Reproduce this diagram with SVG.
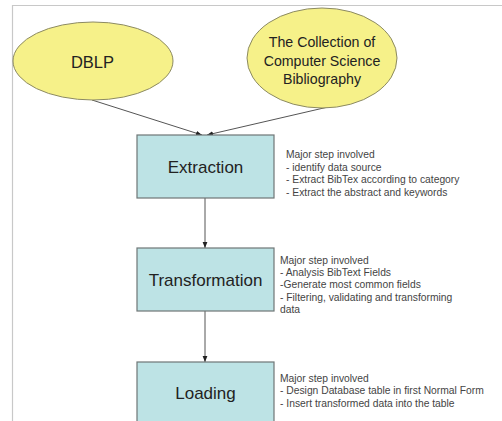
<svg xmlns="http://www.w3.org/2000/svg" width="502" height="421" viewBox="0 0 502 421">
<defs>
<style>
.ell{fill:#f6f189;stroke:#8c8a62;stroke-width:1}
.box{fill:#bde3e5;stroke:#6e7676;stroke-width:1.2}
.lbl{font-family:"Liberation Sans",Arial,sans-serif;fill:#222;text-anchor:middle}
.note{font-family:"Liberation Sans",Arial,sans-serif;font-size:10.3px;fill:#444}
.conn{stroke:#555;stroke-width:1;fill:none}
.frame{stroke:#c8c8c8;stroke-width:1.2;fill:none}
</style>
<marker id="ah" viewBox="0 0 10 10" refX="10" refY="5" markerWidth="6" markerHeight="6" orient="auto" markerUnits="userSpaceOnUse">
<path d="M0,1 L10,5 L0,9 z" fill="#222"/>
</marker>
</defs>
<rect width="502" height="421" fill="#ffffff"/>
<path class="frame" d="M502,5.5 H12.5 V421"/>
<g id="connectors">
<line class="conn" x1="92" y1="100" x2="202" y2="135" marker-end="url(#ah)"/>
<line class="conn" x1="328" y1="107" x2="207" y2="135" marker-end="url(#ah)"/>
<line class="conn" x1="205" y1="198" x2="205" y2="248" marker-end="url(#ah)"/>
<line class="conn" x1="205" y1="311" x2="205" y2="362" marker-end="url(#ah)"/>
</g>
<g id="dblp">
<ellipse class="ell" cx="93" cy="61" rx="80" ry="39"/>
<text class="lbl" x="92.5" y="68" font-size="16.5">DBLP</text>
</g>
<g id="collection">
<ellipse class="ell" cx="322" cy="58" rx="75" ry="50"/>
<text class="lbl" x="322" y="47" font-size="14.2">The Collection of</text>
<text class="lbl" x="322" y="66" font-size="14.2">Computer Science</text>
<text class="lbl" x="322" y="84" font-size="14.2">Bibliography</text>
</g>
<g id="extraction">
<rect class="box" x="137" y="135" width="137" height="63"/>
<text class="lbl" x="205.5" y="173" font-size="17">Extraction</text>
<text class="note" x="286" y="158">Major step involved</text>
<text class="note" x="286" y="170.5">- identify data source</text>
<text class="note" x="286" y="183">- Extract BibTex according to category</text>
<text class="note" x="286" y="195.5">- Extract the abstract and keywords</text>
</g>
<g id="transformation">
<rect class="box" x="137" y="248" width="137" height="63"/>
<text class="lbl" x="205.5" y="286" font-size="17">Transformation</text>
<text class="note" x="280" y="263.5">Major step involved</text>
<text class="note" x="280" y="276">- Analysis BibText Fields</text>
<text class="note" x="280" y="288">-Generate most common fields</text>
<text class="note" x="280" y="300.5">- Filtering, validating and transforming</text>
<text class="note" x="280" y="313">data</text>
</g>
<g id="loading">
<rect class="box" x="137" y="362" width="137" height="70"/>
<text class="lbl" x="205.5" y="399" font-size="17">Loading</text>
<text class="note" x="280" y="381.5">Major step involved</text>
<text class="note" x="280" y="394">- Design Database table in first Normal Form</text>
<text class="note" x="280" y="406.5">- Insert transformed data into the table</text>
</g>
</svg>
